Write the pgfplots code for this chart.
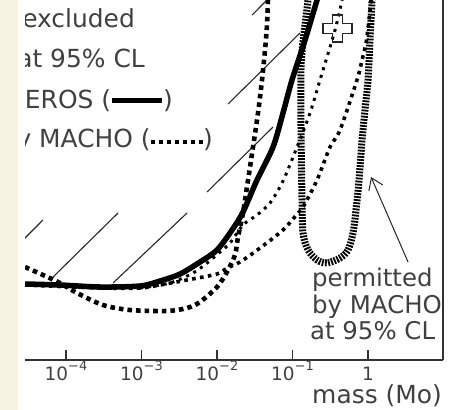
\documentclass[border=0pt]{standalone}
\usepackage{pgfplots}
\pgfplotsset{compat=1.18}
\usepackage{fontspec}
\setmainfont{DejaVu Sans}
\usetikzlibrary{arrows.meta}
\definecolor{paper}{RGB}{246,243,226}

% outlined Greek cross used for the best-fit point
\pgfdeclareplotmark{gcross}{%
  \pgfpathmoveto{\pgfpoint{-5bp}{13.5bp}}%
  \pgfpathlineto{\pgfpoint{5bp}{13.5bp}}%
  \pgfpathlineto{\pgfpoint{5bp}{5bp}}%
  \pgfpathlineto{\pgfpoint{14.5bp}{5bp}}%
  \pgfpathlineto{\pgfpoint{14.5bp}{-5bp}}%
  \pgfpathlineto{\pgfpoint{5bp}{-5bp}}%
  \pgfpathlineto{\pgfpoint{5bp}{-13.5bp}}%
  \pgfpathlineto{\pgfpoint{-5bp}{-13.5bp}}%
  \pgfpathlineto{\pgfpoint{-5bp}{-5bp}}%
  \pgfpathlineto{\pgfpoint{-14.5bp}{-5bp}}%
  \pgfpathlineto{\pgfpoint{-14.5bp}{5bp}}%
  \pgfpathlineto{\pgfpoint{-5bp}{5bp}}%
  \pgfpathclose
  \pgfusepathqstroke
}
\newcommand\sq{\rule[4bp]{4.4bp}{4.4bp}}
% tick labels are set in text mode so that they take the text font
\newcommand\tk[1]{\mbox{\fontsize{18.5}{20}\selectfont #1}}
\newcommand\tp[1]{\tk{10\raisebox{10bp}{\fontsize{13}{14}\selectfont −#1}}}

\begin{document}
\begin{tikzpicture}
\path[use as bounding box] (0,0) rectangle (451bp,410bp);
\fill[paper] (0,0) rectangle (18bp,410bp);
\begin{scope}
\clip (25bp,0) rectangle (451bp,410bp);
\begin{axis}[
  at={(25bp,50bp)}, anchor=south west,
  scale only axis, width=418bp, height=360bp,
  xmin=-4.543, xmax=0.993, ymin=0, ymax=360,
  axis x line=bottom, axis y line=right,
  every outer x axis line/.append style={-},
  every outer y axis line/.append style={-},
  axis line style={-, line width=1.2bp, black!80},
  xtick={-4,-3,-2,-1,0},
  xticklabels={\tp{4},\tp{3},\tp{2},\tp{1},\tk{1}},
  ytick=\empty,
  xtick align=inside, major tick length=10bp,
  tick style={line width=1.2bp, black!80},
  xticklabel style={anchor=base, yshift=-20.5bp, inner sep=0pt, text=black!75},
  xlabel={mass (Mo)},
  x label style={at={(axis description cs:1,0)}, anchor=base east,
    yshift=-43bp, xshift=-1bp, inner sep=0pt,
    font=\fontsize{25}{28}\selectfont, text=black!75},
  clip=true,
]
% hatching of the excluded region
\addplot[black!85, line width=1.1bp, unbounded coords=jump] coordinates {
  (-4.808,102) (-4.305,140) (nan,nan)
  (-4.212,80) (-3.311,147) (nan,nan)
  (-3.377,77) (-2.397,147) (nan,nan)
  (-2.132,168) (-1.258,233) (nan,nan)
  (-1.854,256) (-0.901,327) (nan,nan)
  (-1.536,345) (-1.272,365)
};
% contour permitted by MACHO at 95% CL
\addplot[black, line width=7bp, dash pattern=on 1.8bp off 1.3bp, smooth, tension=0.5] coordinates {
  (-0.795,375) (-0.795,360) (-0.848,327) (-0.887,293) (-0.887,227)
  (-0.874,160) (-0.861,127) (-0.795,110) (-0.675,100) (-0.543,97)
  (-0.371,102) (-0.265,110) (-0.199,127) (-0.159,150) (-0.119,180)
  (-0.079,220) (-0.040,250) (0,280) (0.026,320) (0.053,360) (0.053,375)
};
% MACHO limit, medium dots
\addplot[black, line width=3.6bp, dash pattern=on 3.6bp off 4.4bp, smooth, tension=0.5] coordinates {
  (-4.543,75) (-3.550,72) (-3.020,72) (-2.755,75) (-2.397,80) (-2.000,86)
  (-1.868,92) (-1.695,98) (-1.430,112) (-1.126,130) (-0.927,147)
  (-0.861,153) (-0.675,180) (-0.503,213) (-0.371,230) (-0.146,280)
  (-0.079,300) (-0.026,317) (0.013,340) (0.040,360) (0.053,375)
};
% MACHO limit, fine dots
\addplot[black, line width=3bp, dash pattern=on 3bp off 5bp, smooth, tension=0.5] coordinates {
  (-3.020,72) (-2.623,77) (-2.318,87) (-2.132,97) (-1.960,108) (-1.828,117)
  (-1.656,135) (-1.470,145) (-1.298,157) (-1.126,179) (-0.940,213)
  (-0.768,247) (-0.636,280) (-0.437,330) (-0.344,360) (-0.305,375)
};
% MACHO limit, heavy dots
\addplot[black, line width=4.6bp, dash pattern=on 4.6bp off 4bp, smooth, tension=0.5] coordinates {
  (-4.543,93) (-4.305,85) (-4.079,77) (-3.854,67) (-3.510,55) (-3.152,50)
  (-2.662,49) (-2.397,52) (-2.225,58) (-2.000,73) (-1.868,88) (-1.762,105)
  (-1.722,123) (-1.656,147) (-1.589,180) (-1.523,213) (-1.457,247)
  (-1.404,280) (-1.364,310) (-1.338,335) (-1.325,360) (-1.311,375)
};
% EROS limit
\addplot[black, line width=5.5bp, smooth, tension=0.5] coordinates {
  (-4.543,76) (-4.079,75) (-3.550,73) (-3.020,74) (-2.755,79) (-2.490,86)
  (-2.225,98) (-2.000,110) (-1.801,130) (-1.656,148) (-1.470,180)
  (-1.258,213) (-1.126,247) (-1.007,280) (-0.834,320) (-0.675,360) (-0.609,375)
};
% best-fit point
\addplot[only marks, mark=gcross, mark options={solid, line width=1.1bp, draw=black!85}]
  coordinates {(-0.404,331.5)};
% pointer to the permitted contour
\addplot[black!85, line width=1bp, -{Straight Barb[length=11bp,width=15bp]}]
  coordinates {(0.530,98) (0.040,183)};
\end{axis}
\begin{scope}[every node/.style={inner sep=0pt, text=black!75,
    font=\fontsize{25}{28}\selectfont}]
\node[anchor=base east] at (135bp,382bp) {excluded};
\node[anchor=base east] at (145bp,342bp) {at 95\% CL};
\node[anchor=base east] at (173bp,301bp) {by EROS (\hspace{1bp}{\color{black}\rule[6bp]{50bp}{5bp}}\hspace{1bp})};
\node[anchor=base east] at (213bp,262bp) {by MACHO ({\color{black}\sq\hspace{3.6bp}\sq\hspace{3.6bp}\sq\hspace{3.6bp}\sq\hspace{3.6bp}\sq\hspace{3.6bp}\sq\hspace{3.6bp}\sq})};
\end{scope}
\begin{scope}[every node/.style={inner sep=0pt, text=black!75,
    font=\fontsize{24.5}{28}\selectfont}]
\node[anchor=base west] at (312bp,123bp) {permitted};
\node[anchor=base west] at (312bp,96bp) {by MACHO};
\node[anchor=base west] at (310bp,70bp) {at 95\% CL};
\end{scope}
\end{scope}
\end{tikzpicture}
\end{document}
